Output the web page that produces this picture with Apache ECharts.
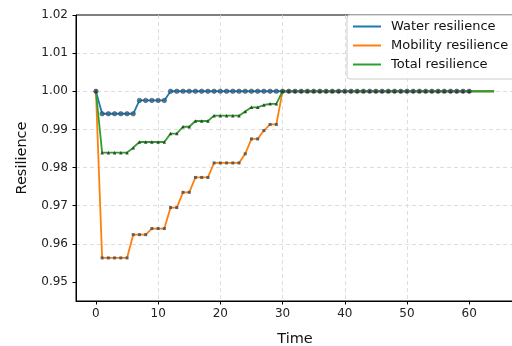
<!DOCTYPE html>
<html>
<head>
<meta charset="utf-8">
<script src="https://cdn.jsdelivr.net/npm/echarts@6/dist/echarts.min.js"></script>
<style>
  html, body { margin: 0; padding: 0; background: #fff; overflow: hidden; }
  /* a bit wider than the window so the right spine falls just outside, as in the source */
  #chart { width: 520px; height: 346px; }
</style>
</head>
<body>
<div id="chart"></div>
<script>
// time steps
var time = [0, 1, 2, 3, 4, 5, 6, 7, 8, 9, 10, 11, 12, 13, 14, 15, 16, 17, 18, 19,
  20, 21, 22, 23, 24, 25, 26, 27, 28, 29, 30, 31, 32, 33, 34, 35, 36, 37, 38, 39,
  40, 41, 42, 43, 44, 45, 46, 47, 48, 49, 50, 51, 52, 53, 54, 55, 56, 57, 58, 59,
  60, 61, 62, 63, 64];

var waterRes = [1.0, 0.9941, 0.9941, 0.9941, 0.9941, 0.9941, 0.9941, 0.9976, 0.9976, 0.9976,
  0.9976, 0.9976, 1.0, 1.0, 1.0, 1.0, 1.0, 1.0, 1.0, 1.0,
  1.0, 1.0, 1.0, 1.0, 1.0, 1.0, 1.0, 1.0, 1.0, 1.0,
  1.0, 1.0, 1.0, 1.0, 1.0, 1.0, 1.0, 1.0, 1.0, 1.0,
  1.0, 1.0, 1.0, 1.0, 1.0, 1.0, 1.0, 1.0, 1.0, 1.0,
  1.0, 1.0, 1.0, 1.0, 1.0, 1.0, 1.0, 1.0, 1.0, 1.0,
  1.0, 1.0, 1.0, 1.0, 1.0];

var mobilityRes = [1.0, 0.9563, 0.9563, 0.9563, 0.9563, 0.9563, 0.9624, 0.9624, 0.9624, 0.9640,
  0.9640, 0.9640, 0.9695, 0.9695, 0.9735, 0.9735, 0.9774, 0.9774, 0.9774, 0.9812,
  0.9812, 0.9812, 0.9812, 0.9812, 0.9836, 0.9875, 0.9875, 0.9897, 0.9913, 0.9913,
  1.0, 1.0, 1.0, 1.0, 1.0, 1.0, 1.0, 1.0, 1.0, 1.0,
  1.0, 1.0, 1.0, 1.0, 1.0, 1.0, 1.0, 1.0, 1.0, 1.0,
  1.0, 1.0, 1.0, 1.0, 1.0, 1.0, 1.0, 1.0, 1.0, 1.0,
  1.0, 1.0, 1.0, 1.0, 1.0];

var totalRes = [1.0, 0.9839, 0.9839, 0.9839, 0.9839, 0.9839, 0.9852, 0.9867, 0.9867, 0.9867,
  0.9867, 0.9867, 0.9889, 0.9889, 0.9907, 0.9907, 0.9922, 0.9922, 0.9922, 0.9936,
  0.9936, 0.9936, 0.9936, 0.9936, 0.9947, 0.9958, 0.9958, 0.9964, 0.9967, 0.9967,
  1.0, 1.0, 1.0, 1.0, 1.0, 1.0, 1.0, 1.0, 1.0, 1.0,
  1.0, 1.0, 1.0, 1.0, 1.0, 1.0, 1.0, 1.0, 1.0, 1.0,
  1.0, 1.0, 1.0, 1.0, 1.0, 1.0, 1.0, 1.0, 1.0, 1.0,
  1.0, 1.0, 1.0, 1.0, 1.0];

var xTicks = [0, 10, 20, 30, 40, 50, 60];
var yTicks = [0.95, 0.96, 0.97, 0.98, 0.99, 1.00, 1.01, 1.02];

var markerUntil = 60; // markers only drawn up to this time

function pairs(vals, upTo) {
  var out = [];
  for (var i = 0; i < time.length; i++) {
    if (upTo == null || time[i] <= upTo) out.push([time[i], vals[i]]);
  }
  return out;
}

var font = "DejaVu Sans";
var dash = { color: "#d6d6d6", type: [4, 3], width: 0.8 };

var chart = echarts.init(document.getElementById("chart"));
var option = {
  animation: false,
  textStyle: { fontFamily: font },
  grid: {
    left: 76, top: 15, bottom: 45, right: 6,
    outerBoundsMode: "none", containLabel: false,
    show: true, borderColor: "#000", borderWidth: 1, backgroundColor: "transparent"
  },
  legend: {
    orient: "vertical",
    left: 347, top: 15,
    icon: "rect", itemWidth: 28, itemHeight: 2, itemGap: 6,
    padding: [5, 10, 8, 6],
    backgroundColor: "rgba(255,255,255,0.85)",
    borderColor: "#cccccc", borderWidth: 1, borderRadius: 3,
    textStyle: { fontFamily: font, fontSize: 13, color: "#111", padding: [0, 0, 0, 5] },
    data: ["Water resilience", "Mobility resilience", "Total resilience"]
  },
  xAxis: {
    type: "value", min: -3.2, max: 67.2,
    name: "Time", nameLocation: "middle", nameGap: 31,
    nameTextStyle: { fontFamily: font, fontSize: 14.5, color: "#111" },
    axisLine: { onZero: false, lineStyle: { color: "#000", width: 1 } },
    axisTick: { show: true, length: 3.5, lineStyle: { color: "#000" }, customValues: xTicks },
    axisLabel: { fontFamily: font, fontSize: 12, color: "#222", margin: 7, customValues: xTicks },
    splitLine: { show: true, showMinLine: false, showMaxLine: false, lineStyle: dash }
  },
  yAxis: {
    type: "value", min: 0.945, max: 1.02,
    name: "Resilience", nameLocation: "middle", nameGap: 46,
    nameTextStyle: { fontFamily: font, fontSize: 14.5, color: "#111" },
    axisLine: { show: true, onZero: false, lineStyle: { color: "#000", width: 1 } },
    axisTick: { show: true, length: 3.5, lineStyle: { color: "#000" }, customValues: yTicks },
    axisLabel: {
      fontFamily: font, fontSize: 12, color: "#222", margin: 8, customValues: yTicks,
      formatter: function (v) { return v.toFixed(2); }
    },
    splitLine: { show: true, showMinLine: false, showMaxLine: false, lineStyle: dash }
  },
  series: [
    {
      name: "Water resilience", type: "line", data: pairs(waterRes),
      color: "#1f77b4", showSymbol: false, symbol: "none",
      lineStyle: { width: 1.8, color: "#1f77b4" }, z: 2
    },
    {
      name: "Mobility resilience", type: "line", data: pairs(mobilityRes),
      color: "#ff7f0e", showSymbol: false, symbol: "none",
      lineStyle: { width: 1.8, color: "#ff7f0e" }, z: 2
    },
    {
      name: "Total resilience", type: "line", data: pairs(totalRes),
      color: "#2ca02c", showSymbol: false, symbol: "none",
      lineStyle: { width: 1.8, color: "#2ca02c" }, z: 2
    },
    {
      name: "water markers", type: "scatter", data: pairs(waterRes, markerUntil),
      symbol: "circle", symbolSize: 4.5,
      itemStyle: { color: "#2b6a99", borderColor: "#333", borderWidth: 0.6 }, z: 3
    },
    {
      name: "mobility markers", type: "scatter", data: pairs(mobilityRes, markerUntil),
      symbol: "rect", symbolSize: 3,
      itemStyle: { color: "#555", opacity: 0.9 }, z: 3
    },
    {
      name: "total markers", type: "scatter", data: pairs(totalRes, markerUntil),
      symbol: "triangle", symbolSize: 3.5,
      itemStyle: { color: "#333", opacity: 0.9 }, z: 3
    }
  ]
};
chart.setOption(option);
</script>
</body>
</html>
